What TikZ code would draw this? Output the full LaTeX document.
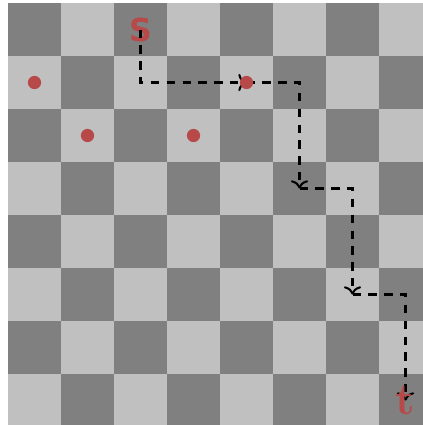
\documentclass[tikz,border=0pt]{standalone}
\usepackage{fontspec}
\setsansfont{DejaVu Sans}
\usetikzlibrary{arrows.meta}

\definecolor{darksq}{RGB}{128,128,128}
\definecolor{lightsq}{RGB}{192,192,192}
\definecolor{mark}{RGB}{183,73,73}

\begin{document}
\begin{tikzpicture}[>={To[scale=1.1]}]
    \tikzset{
        knightpath/.style={->, line width=1.1pt, dash pattern=on 4.5pt off 4pt},
        visited/.style={circle, fill=mark, inner sep=0pt, minimum size=0.25cm},
    }
    \useasboundingbox (-0.151, 0.057) rectangle (7.830, -7.962);

    % Board
    \foreach \i in {0,...,7} {
        \foreach \j in {0,...,7} {
            \pgfmathparse{mod(\i+\j,2)==0 ? "darksq" : "lightsq"}
            \fill[\pgfmathresult] (\i, -\j) rectangle ++(1, -1);
        }
    }

    % Start and end
    \node[text=mark, font=\sffamily\bfseries\fontsize{17}{20}\selectfont] (S) at (2.5, -0.5) {S};
    \coordinate (t) at (7.5, -7.5);

    % Squares on the path
    \coordinate (P1) at (4.5, -1.5);
    \coordinate (P2) at (5.5, -3.5);
    \coordinate (P3) at (6.5, -5.5);

    % Moves
    \draw[knightpath] (S.center) |- (P1);
    \draw[knightpath] (P1) -| (P2);
    \draw[knightpath] (P2) -| (P3);
    \draw[knightpath] (P3) -| (t);

    % Red dots
    \node[visited] (d1) at (0.5, -1.5) {};
    \node[visited] (d2) at (1.5, -2.5) {};
    \node[visited] (d3) at (3.5, -2.5) {};
    \node[visited] (d4) at (P1) {};

    \node[text=mark, font=\bfseries\fontsize{24}{28}\selectfont] (tlabel) at (t) {t};
\end{tikzpicture}
\end{document}
